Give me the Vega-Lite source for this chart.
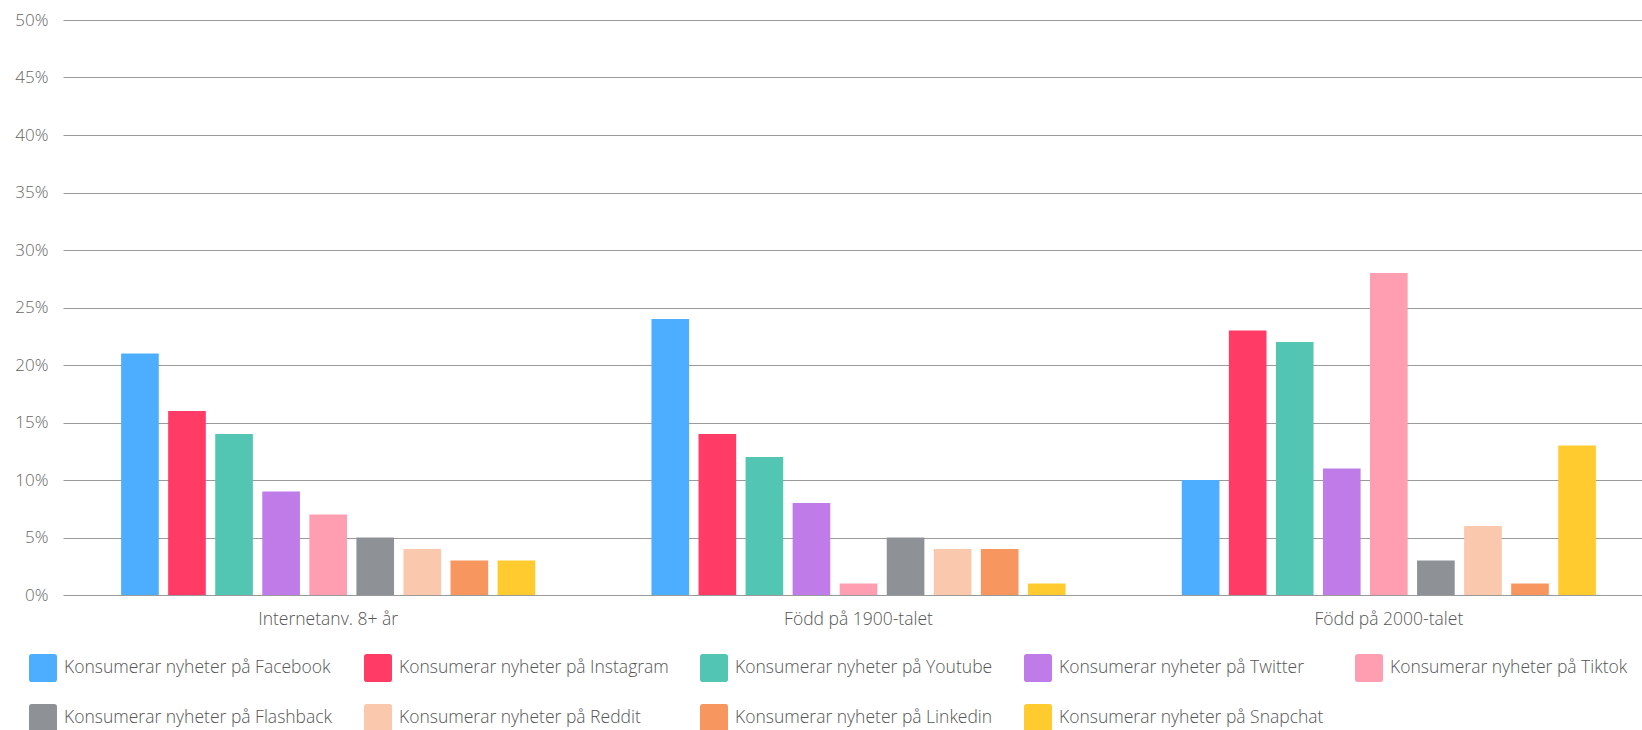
{
  "$schema": "https://vega.github.io/schema/vega-lite/v6.json",
  "autosize": {"type": "none"},
  "width": 1580,
  "height": 575,
  "padding": {"left": 62, "top": 20, "right": 0, "bottom": 135},
  "background": "white",
  "config": {
    "view": {"stroke": null},
    "font": "Open Sans",
    "axis": {"labelFont": "Open Sans", "labelColor": "#666666", "labelFontWeight": 300},
    "legend": {"labelFont": "Open Sans", "labelColor": "#555555", "labelFontWeight": 300}
  },
  "data": {
    "values": [
      {"grupp": "Internetanv. 8+ år", "plattform": "Konsumerar nyheter på Facebook", "andel": 21},
      {"grupp": "Internetanv. 8+ år", "plattform": "Konsumerar nyheter på Instagram", "andel": 16},
      {"grupp": "Internetanv. 8+ år", "plattform": "Konsumerar nyheter på Youtube", "andel": 14},
      {"grupp": "Internetanv. 8+ år", "plattform": "Konsumerar nyheter på Twitter", "andel": 9},
      {"grupp": "Internetanv. 8+ år", "plattform": "Konsumerar nyheter på Tiktok", "andel": 7},
      {"grupp": "Internetanv. 8+ år", "plattform": "Konsumerar nyheter på Flashback", "andel": 5},
      {"grupp": "Internetanv. 8+ år", "plattform": "Konsumerar nyheter på Reddit", "andel": 4},
      {"grupp": "Internetanv. 8+ år", "plattform": "Konsumerar nyheter på Linkedin", "andel": 3},
      {"grupp": "Internetanv. 8+ år", "plattform": "Konsumerar nyheter på Snapchat", "andel": 3},
      {"grupp": "Född på 1900-talet", "plattform": "Konsumerar nyheter på Facebook", "andel": 24},
      {"grupp": "Född på 1900-talet", "plattform": "Konsumerar nyheter på Instagram", "andel": 14},
      {"grupp": "Född på 1900-talet", "plattform": "Konsumerar nyheter på Youtube", "andel": 12},
      {"grupp": "Född på 1900-talet", "plattform": "Konsumerar nyheter på Twitter", "andel": 8},
      {"grupp": "Född på 1900-talet", "plattform": "Konsumerar nyheter på Tiktok", "andel": 1},
      {"grupp": "Född på 1900-talet", "plattform": "Konsumerar nyheter på Flashback", "andel": 5},
      {"grupp": "Född på 1900-talet", "plattform": "Konsumerar nyheter på Reddit", "andel": 4},
      {"grupp": "Född på 1900-talet", "plattform": "Konsumerar nyheter på Linkedin", "andel": 4},
      {"grupp": "Född på 1900-talet", "plattform": "Konsumerar nyheter på Snapchat", "andel": 1},
      {"grupp": "Född på 2000-talet", "plattform": "Konsumerar nyheter på Facebook", "andel": 10},
      {"grupp": "Född på 2000-talet", "plattform": "Konsumerar nyheter på Instagram", "andel": 23},
      {"grupp": "Född på 2000-talet", "plattform": "Konsumerar nyheter på Youtube", "andel": 22},
      {"grupp": "Född på 2000-talet", "plattform": "Konsumerar nyheter på Twitter", "andel": 11},
      {"grupp": "Född på 2000-talet", "plattform": "Konsumerar nyheter på Tiktok", "andel": 28},
      {"grupp": "Född på 2000-talet", "plattform": "Konsumerar nyheter på Flashback", "andel": 3},
      {"grupp": "Född på 2000-talet", "plattform": "Konsumerar nyheter på Reddit", "andel": 6},
      {"grupp": "Född på 2000-talet", "plattform": "Konsumerar nyheter på Linkedin", "andel": 1},
      {"grupp": "Född på 2000-talet", "plattform": "Konsumerar nyheter på Snapchat", "andel": 13}
    ]
  },
  "mark": {"type": "bar"},
  "encoding": {
    "x": {
      "field": "grupp",
      "type": "nominal",
      "sort": ["Internetanv. 8+ år", "Född på 1900-talet", "Född på 2000-talet"],
      "scale": {"range": [1, 1592], "paddingInner": 0.0417, "paddingOuter": 0.02085},
      "axis": {
        "title": null,
        "labelAngle": 0,
        "ticks": false,
        "domain": false,
        "labelFontSize": 17.5,
        "labelPadding": 15,
        "labelColor": "#555555"
      }
    },
    "xOffset": {
      "field": "plattform",
      "type": "nominal",
      "sort": [
        "Konsumerar nyheter på Facebook",
        "Konsumerar nyheter på Instagram",
        "Konsumerar nyheter på Youtube",
        "Konsumerar nyheter på Twitter",
        "Konsumerar nyheter på Tiktok",
        "Konsumerar nyheter på Flashback",
        "Konsumerar nyheter på Reddit",
        "Konsumerar nyheter på Linkedin",
        "Konsumerar nyheter på Snapchat"
      ],
      "scale": {"paddingInner": 0.2, "paddingOuter": 1}
    },
    "y": {
      "field": "andel",
      "type": "quantitative",
      "scale": {"domain": [0, 50], "nice": false},
      "axis": {
        "title": null,
        "values": [0, 5, 10, 15, 20, 25, 30, 35, 40, 45, 50],
        "labelExpr": "datum.value + '%'",
        "ticks": false,
        "domain": false,
        "grid": true,
        "gridColor": "#9a9a9a",
        "gridWidth": 1,
        "labelFontSize": 17,
        "labelPadding": 14,
        "labelColor": "#666666"
      }
    },
    "color": {
      "field": "plattform",
      "type": "nominal",
      "scale": {
        "domain": [
          "Konsumerar nyheter på Facebook",
          "Konsumerar nyheter på Instagram",
          "Konsumerar nyheter på Youtube",
          "Konsumerar nyheter på Twitter",
          "Konsumerar nyheter på Tiktok",
          "Konsumerar nyheter på Flashback",
          "Konsumerar nyheter på Reddit",
          "Konsumerar nyheter på Linkedin",
          "Konsumerar nyheter på Snapchat"
        ],
        "range": ["#4daeff", "#ff3b66", "#52c6b3", "#bf7be8", "#ff9eb1", "#8e9297", "#fac8ac", "#f7975f", "#ffcb2e"]
      },
      "legend": {
        "title": null,
        "orient": "none",
        "direction": "horizontal",
        "legendX": -33,
        "legendY": 634,
        "columns": 5,
        "columnPadding": 31,
        "rowPadding": 22,
        "padding": 0,
        "symbolType": "M-0.8,-1 L0.8,-1 Q1,-1 1,-0.8 L1,0.8 Q1,1 0.8,1 L-0.8,1 Q-1,1 -1,0.8 L-1,-0.8 Q-1,-1 -0.8,-1 Z",
        "symbolSize": 784,
        "symbolStrokeWidth": 0,
        "symbolOpacity": 1,
        "labelFontSize": 17.5,
        "labelOffset": 7,
        "labelLimit": 400,
        "labelColor": "#555555"
      }
    }
  }
}
